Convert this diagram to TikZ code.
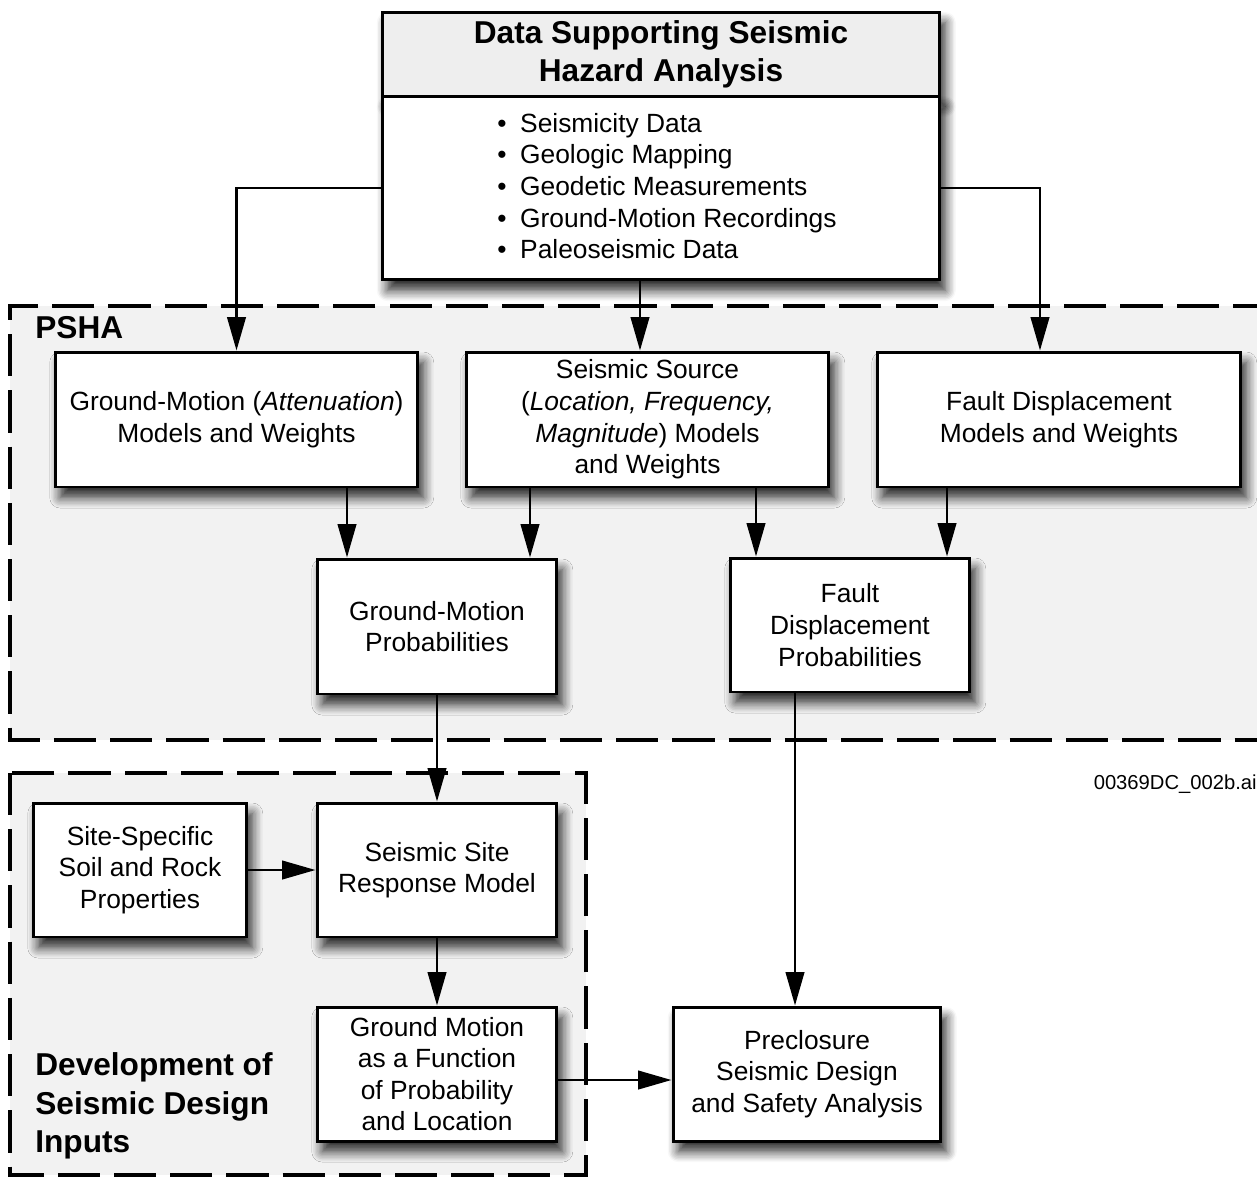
\documentclass[tikz,border=0pt]{standalone}
\usepackage{fontspec}
\setmainfont{Liberation Sans}
\usetikzlibrary{arrows.meta,shadows.blur}
\definecolor{regionbg}{HTML}{F2F2F2}
\definecolor{hdrbg}{HTML}{EEEEEE}
\begin{document}
\begin{tikzpicture}[x=0.02cm,y=-0.02cm,
  box/.style={draw, fill=white, line width=1.7pt, align=center, inner sep=0pt,
    font=\fontsize{15}{18}\selectfont,
    blur shadow={shadow xshift=3pt, shadow yshift=-6pt, shadow blur radius=6pt, shadow opacity=85, shadow blur steps=8}},
  arr/.style={line width=1.5pt, -{Triangle[length=19pt,width=10.5pt]}},
  region/.style={fill=regionbg, draw, line width=2pt, dash pattern=on 24pt off 8pt},
  lbl/.style={font=\fontsize{18}{22}\selectfont\bfseries, align=left, inner sep=0pt}]
\useasboundingbox (0,0) rectangle (1257,1177);

% dashed regions
\path[region] (1275,306) -- (10,306) -- (10,740) -- (1275,740);
\path[region] (10,773) rectangle (586,1175);

% column / row helpers
\coordinate (k0) at (640,0);
\coordinate (k1) at (347,0);
\coordinate (k2) at (530,0);
\coordinate (k3) at (756,0);
\coordinate (k4) at (947,0);
\coordinate (k5) at (1040,0);
\coordinate (k6) at (795,0);
\coordinate (r1) at (0,1080);

% top box
\node[box, fill=hdrbg, minimum width=11.16cm, minimum height=1.68cm,
      font=\fontsize{18}{21.5}\selectfont\bfseries] (hdr) at (661,54) {Data Supporting Seismic\\Hazard Analysis};
\node[box, minimum width=11.16cm, minimum height=3.68cm] (lst) at (661,188) {};
\node[anchor=west, align=left, inner sep=0pt, font=\fontsize{15}{18}\selectfont] (items) at (497,186)
  {\makebox[13pt][l]{\textbullet}Seismicity Data\\
   \makebox[13pt][l]{\textbullet}Geologic Mapping\\
   \makebox[13pt][l]{\textbullet}Geodetic Measurements\\
   \makebox[13pt][l]{\textbullet}Ground-Motion Recordings\\
   \makebox[13pt][l]{\textbullet}Paleoseismic Data};

% labels
\node[lbl, anchor=west] (psha) at (35,328) {PSHA};
\node[lbl, anchor=west] (dev) at (35,1106) {Development of\\Seismic Design\\Inputs};
\node[anchor=east, inner sep=0pt, font=\fontsize{11.5}{13}\selectfont] (fid) at (1257,784) {00369DC\_002b.ai};

% boxes
\node[box, minimum width=7.26cm, minimum height=2.7cm] (gma) at (236.5,419.5) {Ground-Motion (\textit{Attenuation})\\Models and Weights};
\node[box, minimum width=7.26cm, minimum height=2.7cm] (ss) at (647.5,419.5) {Seismic Source\\(\textit{Location, Frequency,}\\\textit{Magnitude}) Models\\and Weights};
\node[box, minimum width=7.28cm, minimum height=2.7cm] (fdm) at (1059,419.5) {Fault Displacement\\Models and Weights};
\node[box, minimum width=4.8cm, minimum height=2.7cm] (gmp) at (437,626.5) {Ground-Motion\\Probabilities};
\node[box, minimum width=4.8cm, minimum height=2.68cm] (fdp) at (850,625) {Fault\\Displacement\\Probabilities};
\node[box, minimum width=4.28cm, minimum height=2.68cm] (ssp) at (140,870) {Site-Specific\\Soil and Rock\\Properties};
\node[box, minimum width=4.8cm, minimum height=2.68cm] (ssr) at (437,870) {Seismic Site\\Response Model};
\node[box, minimum width=4.8cm, minimum height=2.68cm] (gmf) at (437,1074) {Ground Motion\\as a Function\\of Probability\\and Location};
\node[box, minimum width=5.36cm, minimum height=2.68cm] (pre) at (807,1074) {Preclosure\\Seismic Design\\and Safety Analysis};

% connectors
\draw[arr] (lst.west) -| (gma.north);
\draw[arr] (lst.south -| k0) -- (ss.north -| k0);
\draw[arr] (lst.east) -| (fdm.north -| k5);
\draw[arr] (gma.south -| k1) -- (gmp.north -| k1);
\draw[arr] (ss.south -| k2) -- (gmp.north -| k2);
\draw[arr] (ss.south -| k3) -- (fdp.north -| k3);
\draw[arr] (fdm.south -| k4) -- (fdp.north -| k4);
\draw[arr] (gmp) -- (ssr);
\draw[arr] (ssp) -- (ssr);
\draw[arr] (ssr) -- (gmf);
\draw[arr] (fdp.south -| k6) -- (pre.north -| k6);
\draw[arr] (gmf.east |- r1) -- (pre.west |- r1);
\end{tikzpicture}
\end{document}
